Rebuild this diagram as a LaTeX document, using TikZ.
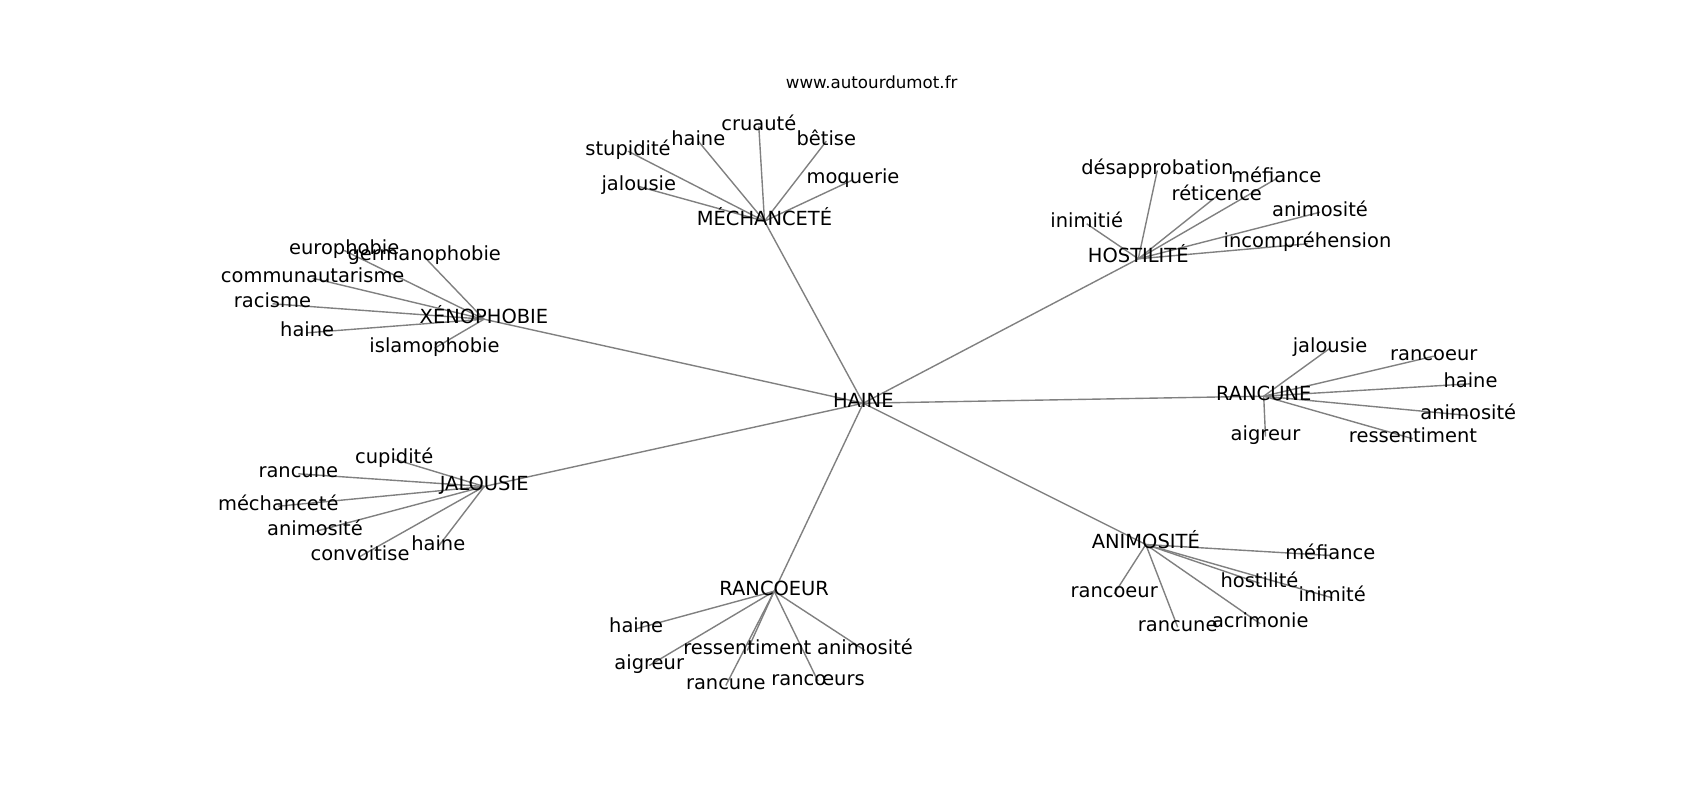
\documentclass[tikz,border=0pt]{standalone}
\usepackage{fontspec}
\setmainfont{DejaVu Sans}
\usetikzlibrary{backgrounds}
\definecolor{edgegray}{HTML}{808080}
\tikzset{
  lbl/.style={font=\fontsize{14bp}{16bp}\selectfont, text=black, inner sep=0pt, outer sep=0pt, anchor=center, text height=0.76em, text depth=0.208em, yshift=-0.025in},
  ttl/.style={font=\fontsize{12bp}{14bp}\selectfont, text=black, inner sep=0pt, anchor=center, text height=0.76em, text depth=0.208em, yshift=-0.01in},
  edge/.style={draw=edgegray, line width=1bp}
}
\begin{document}
\begin{tikzpicture}[x=0.01in, y=-0.01in]
\useasboundingbox (0,0) rectangle (1700,800);
\node[ttl] (t) at (871.7,83.7) {www.autourdumot.fr};
\node[lbl] (h) at (863.3,400.7) {HAINE};
% Xenophobie
\node[lbl] (x0) at (484,316.7) {XÉNOPHOBIE};
\node[lbl] (x1) at (344.2,248) {europhobie};
\node[lbl] (x2) at (424.2,254.3) {germanophobie};
\node[lbl] (x3) at (312.7,275.7) {communautarisme};
\node[lbl] (x4) at (272.5,301.3) {racisme};
\node[lbl] (x5) at (307.2,330.3) {haine};
\node[lbl] (x6) at (434.5,345.7) {islamophobie};
% Jalousie
\node[lbl] (j0) at (484.2,484) {JALOUSIE};
\node[lbl] (j1) at (394.2,456.7) {cupidité};
\node[lbl] (j2) at (298.3,471.3) {rancune};
\node[lbl] (j3) at (278.3,503.7) {méchanceté};
\node[lbl] (j4) at (315,529) {animosité};
\node[lbl] (j5) at (360,554) {convoitise};
\node[lbl] (j6) at (438.3,544) {haine};
% Mechancete
\node[lbl] (m0) at (764.5,218.7) {MÉCHANCETÉ};
\node[lbl] (m1) at (758.8,124) {cruauté};
\node[lbl] (m2) at (698.3,138.7) {haine};
\node[lbl] (m3) at (826.3,138.7) {bêtise};
\node[lbl] (m4) at (628,148.7) {stupidité};
\node[lbl] (m5) at (638.8,184) {jalousie};
\node[lbl] (m6) at (853,177.3) {moquerie};
% Hostilite
\node[lbl] (o0) at (1138.3,256.3) {HOSTILITÉ};
\node[lbl] (o1) at (1157.3,168) {désapprobation};
\node[lbl] (o2) at (1276.2,176.3) {méfiance};
\node[lbl] (o3) at (1216.8,193.7) {réticence};
\node[lbl] (o4) at (1086.7,221.3) {inimitié};
\node[lbl] (o5) at (1320,209.7) {animosité};
\node[lbl] (o6) at (1307.5,241.3) {incompréhension};
% Rancune
\node[lbl] (r0) at (1263.7,393.7) {RANCUNE};
\node[lbl] (r1) at (1330,345.7) {jalousie};
\node[lbl] (r2) at (1433.8,353.7) {rancoeur};
\node[lbl] (r3) at (1470.5,381.3) {haine};
\node[lbl] (r4) at (1468.3,413) {animosité};
\node[lbl] (r5) at (1413,436.3) {ressentiment};
\node[lbl] (r6) at (1265.5,434) {aigreur};
% Animosite
\node[lbl] (a0) at (1145.8,542) {ANIMOSITÉ};
\node[lbl] (a1) at (1330.3,553) {méfiance};
\node[lbl] (a2) at (1259.5,580.7) {hostilité};
\node[lbl] (a3) at (1332.2,595.3) {inimité};
\node[lbl] (a4) at (1114.2,591.3) {rancoeur};
\node[lbl] (a5) at (1177.7,624.7) {rancune};
\node[lbl] (a6) at (1260.3,621.3) {acrimonie};
% Rancoeur
\node[lbl] (c0) at (774.2,588.7) {RANCOEUR};
\node[lbl] (c1) at (636.2,626.3) {haine};
\node[lbl] (c2) at (649.2,663) {aigreur};
\node[lbl] (c3) at (747.3,648) {ressentiment};
\node[lbl] (c4) at (865,648) {animosité};
\node[lbl] (c5) at (725.8,683) {rancune};
\node[lbl] (c6) at (818,678.7) {rancœurs};
\begin{scope}[on background layer]
\fill[white] (0,0) rectangle (1700,800);
\foreach \k in {x0,j0,m0,o0,r0,a0,c0} \draw[edge] (h.center) -- (\k.center);
\foreach \g in {x,j,m,o,r,a,c} {
  \foreach \i in {1,...,6} \draw[edge] (\g0.center) -- (\g\i.center);
}
\end{scope}
\end{tikzpicture}
\end{document}
